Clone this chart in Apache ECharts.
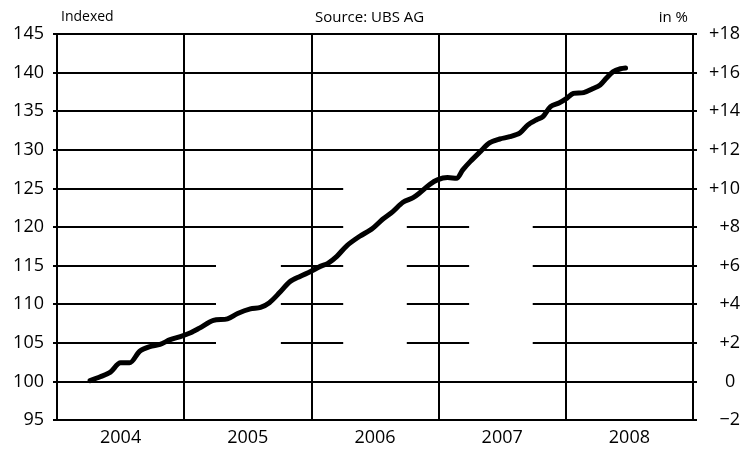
<!DOCTYPE html>
<html>
<head>
<meta charset="utf-8">
<script src="https://cdn.jsdelivr.net/npm/echarts@6/dist/echarts.min.js"></script>
<style>
	html,body{margin:0;padding:0;background:#fff}
	#chart{width:743px;height:452px}
</style>
</head>
<body>
<div id="chart"></div>
<script>
	// years on the bottom axis
	let years = ['2004', '2005', '2006', '2007', '2008']
	// time position of each point (decimal year) and index value
	let dates = [
		2004.26, 2004.34, 2004.42, 2004.50, 2004.57, 2004.65, 2004.73, 2004.81, 2004.89, 2004.97,
		2005.05, 2005.12, 2005.23, 2005.34, 2005.42, 2005.52, 2005.60, 2005.67, 2005.75, 2005.83,
		2005.91, 2005.99, 2006.07, 2006.13, 2006.20, 2006.28, 2006.38, 2006.48, 2006.56, 2006.64,
		2006.72, 2006.80, 2006.85, 2006.93, 2006.99, 2007.07, 2007.14, 2007.19, 2007.25, 2007.33,
		2007.40, 2007.48, 2007.56, 2007.64, 2007.70, 2007.77, 2007.82, 2007.88, 2007.95, 2008.01,
		2008.06, 2008.14, 2008.21, 2008.27, 2008.32, 2008.37, 2008.43, 2008.47
	]
	let indexValues = [
		100.1, 100.6, 101.2, 102.4, 102.4, 103.9, 104.5, 104.8, 105.4, 105.8,
		106.3, 106.9, 107.9, 108.1, 108.8, 109.4, 109.6, 110.2, 111.5, 112.9,
		113.6, 114.2, 114.9, 115.3, 116.2, 117.6, 118.8, 119.8, 121.0, 122.0,
		123.2, 123.8, 124.4, 125.5, 126.1, 126.4, 126.3, 127.4, 128.5, 129.8,
		130.9, 131.4, 131.7, 132.2, 133.2, 133.9, 134.3, 135.6, 136.1, 136.7,
		137.3, 137.4, 137.9, 138.4, 139.3, 140.1, 140.5, 140.6
	]
	// left axis (index) and right axis (in %) ranges
	let leftAxis = { min: 95, max: 145, step: 5 }
	let rightAxis = { min: -2, max: 18, step: 2 }

	let font = 'Open Sans'
	let chart = echarts.init(document.getElementById('chart'), null, { renderer: 'canvas' })
	chart.setOption({
		animation: false,
		grid: { left: 57, right: 50, top: 34, bottom: 32 },
		graphic: [
			{ type: 'text', left: 61, top: 10, style: { text: 'Indexed', font: '14px "' + font + '"', fill: '#000' } },
			{ type: 'text', left: 315, top: 10, style: { text: 'Source: UBS AG', font: '15px "' + font + '"', fill: '#000' } },
			{ type: 'text', right: 55, top: 10, style: { text: 'in %', font: '15px "' + font + '"', fill: '#000' } }
		],
		xAxis: [
			{
				type: 'value',
				min: 2004,
				max: 2009,
				interval: 1,
				axisLine: { show: false },
				axisTick: { show: false },
				axisLabel: { show: false },
				splitLine: { show: true, lineStyle: { color: '#000', width: 2 } }
			},
			{
				type: 'category',
				data: years,
				boundaryGap: true,
				position: 'bottom',
				axisLine: { show: false },
				axisTick: { show: false },
				splitLine: { show: false },
				axisLabel: { color: '#000', fontFamily: font, fontSize: 18, margin: 9 }
			}
		],
		yAxis: [
			{
				type: 'value',
				min: leftAxis.min,
				max: leftAxis.max,
				interval: leftAxis.step,
				position: 'left',
				axisLine: { show: false },
				axisTick: { show: true, length: 4, lineStyle: { color: '#000', width: 2 } },
				axisLabel: { color: '#000', fontFamily: font, fontSize: 18, margin: 13 },
				splitLine: { show: true, lineStyle: { color: '#000', width: 2 } }
			},
			{
				type: 'value',
				min: rightAxis.min,
				max: rightAxis.max,
				interval: rightAxis.step,
				position: 'right',
				axisLine: { show: false },
				axisTick: { show: true, length: 4, lineStyle: { color: '#000', width: 2 } },
				axisLabel: {
					color: '#000', fontFamily: font, fontSize: 18, margin: 47, align: 'right',
					formatter: v => v > 0 ? '+' + v : (v < 0 ? '\u2212' + Math.abs(v) : '0 ')
				},
				splitLine: { show: false }
			}
		],
		series: [
			{
				// white patches where the scan has gaps in the horizontal grid
				type: 'line',
				data: [],
				z: 1,
				silent: true,
				markArea: {
					silent: true,
					itemStyle: { color: '#fff', opacity: 1 },
					data: [
						[{ coord: [2005.25, 102] }, { coord: [2005.76, 117] }],
						[{ coord: [2006.25, 102] }, { coord: [2006.75, 127] }],
						[{ coord: [2007.24, 102] }, { coord: [2007.74, 122] }]
					]
				}
			},
			{
				name: 'UBS',
				type: 'line',
				z: 5,
				data: dates.map((d, i) => [d, indexValues[i]]),
				showSymbol: false,
				smooth: 0.3,
				lineStyle: { color: '#000', width: 5, cap: 'round', join: 'round' }
			}
		]
	})
</script>
</body>
</html>
